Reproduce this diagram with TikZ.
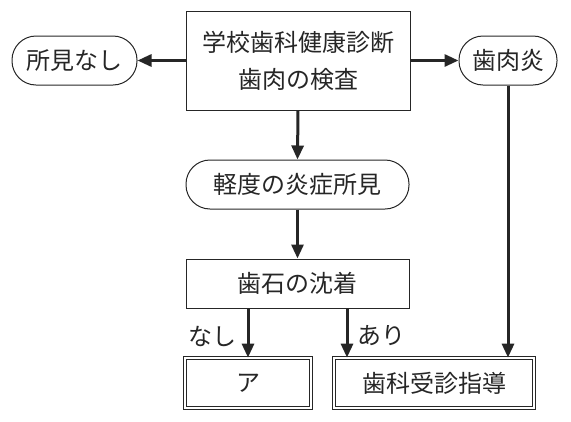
\documentclass[tikz,border=0pt]{standalone}
\usepackage{fontspec}
\setmainfont{Noto Sans CJK JP}
\usetikzlibrary{arrows.meta}
\tikzset{
    box/.style = {draw, line width=1pt, inner sep=0pt, align=center},
    roundbox/.style = {box, rounded corners=24pt},
    dblbox/.style = {draw, double, double distance=2pt, line width=0.8pt, inner sep=0pt},
    flow/.style = {line width=3pt, -{Triangle[length=14pt,width=12pt]}},
}
\begin{document}
\begin{tikzpicture}[x=1pt,y=-1pt,font=\fontsize{24}{37}\selectfont,color=black!85]
    \useasboundingbox (0,0) rectangle (571,421);
    \node[box, minimum width=224pt, minimum height=99pt] (kenshin) at (298,60.5) {学校歯科健康診断\\歯肉の検査};
    \node[roundbox, minimum width=125pt, minimum height=49pt] (nashibox) at (74.5,60.5) {所見なし};
    \node[roundbox, minimum width=98pt, minimum height=49pt] (shiniku) at (508,60.5) {歯肉炎};
    \node[roundbox, minimum width=223pt, minimum height=49pt] (keido) at (297.5,184.5) {軽度の炎症所見};
    \node[box, minimum width=223pt, minimum height=49pt] (shiseki) at (297.5,283.5) {歯石の沈着};
    \node[dblbox, minimum width=126pt, minimum height=50pt] (a) at (248,383) {ア};
    \node[dblbox, minimum width=200pt, minimum height=50pt] (jushin) at (434,383) {歯科受診指導};
    \coordinate (ari) at (347,0);

    \draw[flow] (kenshin.west |- nashibox) -- (nashibox.east);
    \draw[flow] (kenshin.east |- shiniku) -- (shiniku.west);
    \draw[flow] (kenshin.south) -- (keido.north);
    \draw[flow] (keido.south) -- (shiseki.north);
    \draw[flow] (shiseki.south -| a.north) -- node[left, xshift=-7pt, yshift=-3pt] (nashi) {なし} (a.north);
    \draw[flow] (shiseki.south -| ari) -- node[right, xshift=6pt, yshift=-3pt] (ariL) {あり} (jushin.north -| ari);
    \draw[flow] (shiniku.south) -- (jushin.north -| shiniku.south);
\end{tikzpicture}
\end{document}
